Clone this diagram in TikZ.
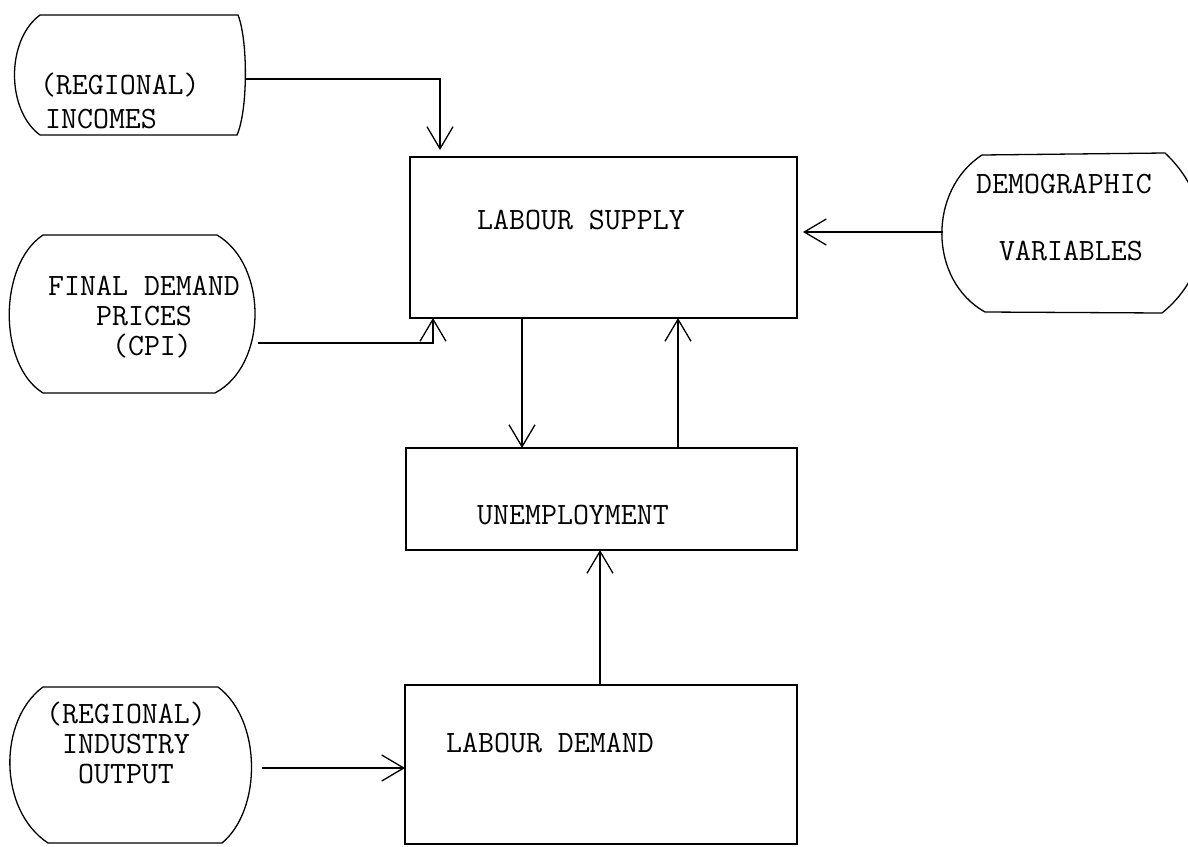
\documentclass[tikz,border=0pt]{standalone}
\usetikzlibrary{arrows.meta}
\begin{document}
\begin{tikzpicture}[x=1pt,y=-1pt,
  every node/.style={inner sep=0pt, outer sep=0pt},
  txt/.style={font=\ttfamily\fontsize{31}{30}\selectfont, align=center},
  blockbox/.style={draw, line width=1.3pt, rectangle, anchor=north west},
  inshape/.style={draw, line width=1.3pt},
  arr/.style={line width=1.3pt, -{Straight Barb[length=22pt,width=26pt,line width=1.3pt]}},
  link/.style={line width=1.3pt}]
\useasboundingbox (0,0) rectangle (1188,846);
\fill[white] (0,0) rectangle (1188,846);

% model blocks
\node[blockbox, minimum width=387pt, minimum height=161pt] (supply) at (410,157) {};
\node[blockbox, minimum width=391pt, minimum height=102pt] (unemp) at (406,448) {};
\node[blockbox, minimum width=392pt, minimum height=159pt] (demand) at (405,685) {};
\node[txt] (supplytxt) at (581,220) {LABOUR SUPPLY};
\node[txt] (unemptxt) at (573,515) {UNEMPLOYMENT};
\node[txt] (demandtxt) at (550,743) {LABOUR DEMAND};

% exogenous inputs
\draw[inshape] (40,15) -- (238,15) .. controls (248,40) and (248,110) .. (237,135)
  -- (40,135) .. controls (6,110) and (6,40) .. (40,15) -- cycle;
\node[txt, align=left, anchor=west, font=\ttfamily\fontsize{31}{34}\selectfont] (incomes) at (40,101)
  {(REGIONAL)\\\,INCOMES};

\draw[inshape] (43,235) -- (217,235) .. controls (268,265) and (268,365) .. (215,393)
  -- (43,393) .. controls (-2,365) and (-2,265) .. (43,235) -- cycle;
\node[txt] (cpi) at (144,317) {FINAL DEMAND\\PRICES\\\hspace*{16pt}(CPI)};

\draw[inshape] (43,687) -- (218,687) .. controls (262,720) and (262,810) .. (222,843)
  -- (48,843) .. controls (-2,810) and (-2,720) .. (43,687) -- cycle;
\node[txt] (industry) at (126,743) {(REGIONAL)\\INDUSTRY\\OUTPUT};

\draw[inshape] (982,155) -- (1165,153) .. controls (1215,200) and (1215,270) .. (1162,313)
  -- (985,312) .. controls (928,280) and (928,190) .. (982,155) -- cycle;
\node[txt, font=\ttfamily\fontsize{31}{67}\selectfont] (demog) at (1064,217) {DEMOGRAPHIC\\\hspace*{14pt}VARIABLES};

% connector end points on the input outlines
\coordinate (inc-e) at (246,79);
\coordinate (cpi-e) at (258,343);
\coordinate (ind-e) at (262,768);
\coordinate (dem-w) at (943,232);
\coordinate (xinc) at (440,0);
\coordinate (xcpi) at (433,0);
\coordinate (xdown) at (522,0);
\coordinate (xup) at (678,0);
\coordinate (xdem) at (600,0);

% connectors
\draw[arr, shorten >=7pt] (inc-e) -| (supply.north -| xinc);
\draw[arr] (cpi-e) -| (supply.south -| xcpi);
\draw[arr, shorten >=6pt] (dem-w) -- (supply.east |- dem-w);
\draw[arr] (supply.south -| xdown) -- (unemp.north -| xdown);
\draw[arr] (unemp.north -| xup) -- (supply.south -| xup);
\draw[arr] (demand.north -| xdem) -- (unemp.south -| xdem);
\draw[arr] (ind-e) -- (demand.west |- ind-e);
\end{tikzpicture}
\end{document}
